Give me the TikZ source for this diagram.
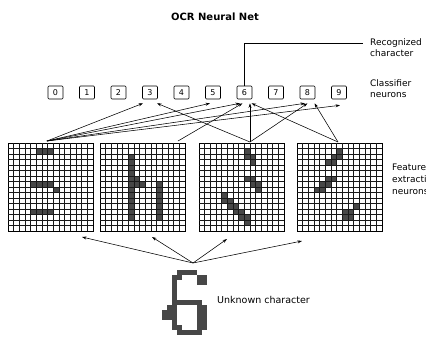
\documentclass[tikz,border=0pt]{standalone}
\usepackage{fontspec}
\setmainfont{DejaVu Sans}
\usetikzlibrary{calc,arrows.meta}
\begin{document}
\begin{tikzpicture}[x=1pt,y=-1pt,
  nbox/.style={draw,line width=0.6pt,rounded corners=1pt,minimum width=15pt,minimum height=13pt,inner sep=0pt,font=\fontsize{8}{8}\selectfont},
  gridbox/.style={draw,line width=0.7pt,minimum width=85pt,minimum height=88pt,inner sep=0pt,outer sep=0pt,anchor=north west},
  gline/.style={line width=0.5pt,black!90},
  conn/.style={line width=0.55pt,-{Stealth[length=4.5pt,width=3pt]}},
  lbl/.style={font=\fontsize{9}{11}\selectfont,align=left,anchor=north west,inner sep=0pt},
  feat/.style={fill=black!72},
]
\useasboundingbox (0,0) rectangle (426,341);

% title
\node[font=\fontsize{10}{12}\selectfont\bfseries] (title) at (215,17) {OCR Neural Net};

% classifier neurons
\foreach \i in {0,...,9}
  \node[nbox] (b\i) at ({55.5+31.5*\i},92.5) {\i};

% labels
\node[lbl] (rec) at (370,38.5) {Recognized\\character};
\node[lbl] (cls) at (370,79) {Classifier\\neurons};
\node[lbl,font=\fontsize{9}{12}\selectfont] (fen) at (392,164) {Feature\\extraction\\neurons};
\draw[line width=0.6pt] (b6.north) |- ($(rec.north west)+(-7,5)$);

% feature grids
\foreach \g/\x in {1/8,2/100,3/199,4/297}
  \node[gridbox] (g\g) at (\x,143) {};

% dark cells
\foreach \c/\r in {5/1,6/1,7/1, 4/7,5/7,6/7,7/7,8/8, 4/12,5/12,6/12,7/12}
  \fill[feat] ($(g1.north west)+(\c*5.667,\r*5.5)$) rectangle ++(5.667,5.5);
\foreach \c/\r in {5/2,5/3,5/4,5/5,5/6,5/7,5/8,5/9,5/10,5/11,5/12,5/13, 6/6,6/7,7/7, 10/7,10/8,10/9,10/10,10/11,10/12,10/13}
  \fill[feat] ($(g2.north west)+(\c*5.667,\r*5.5)$) rectangle ++(5.667,5.5);
\foreach \c/\r in {8/1,8/2,9/2,9/3, 8/6,9/6,9/7,10/7,10/8, 4/9,4/10,5/10,5/11,6/11,6/12,7/12,7/13,8/13,8/14}
  \fill[feat] ($(g3.north west)+(\c*5.667,\r*5.5)$) rectangle ++(5.667,5.5);
\foreach \c/\r in {7/1,7/2,6/2,6/3,5/3, 5/6,6/6,5/7,4/7,4/8,3/8, 8/12,8/13,9/13,9/12,10/11}
  \fill[feat] ($(g4.north west)+(\c*5.667,\r*5.5)$) rectangle ++(5.667,5.5);

% grid lines
\foreach \g in {1,2,3,4} {
  \foreach \c in {1,...,14}
    \draw[gline] ($(g\g.north west)+(\c*5.667,0)$) -- ++(0,88);
  \foreach \r in {1,...,15}
    \draw[gline] ($(g\g.north west)+(0,\r*5.5)$) -- ++(85,0);
}

% unknown character
\node[minimum width=45pt,minimum height=65pt,inner sep=0pt,outer sep=0pt,anchor=north west] (unk) at (162,270) {};
\foreach \c/\r in {3/0,4/0,5/0,6/0, 2/1,3/1,7/1,8/1, 2/2,7/2,8/2, 2/3,2/4,2/5,
  2/6,3/6,4/6,5/6,6/6,7/6, 1/7,2/7,7/7,8/7, 0/8,1/8,2/8,7/8,8/8, 0/9,1/9,2/9,7/9,8/9,
  2/10,7/10,8/10, 2/11,3/11,7/11,8/11, 3/12,4/12,5/12,6/12,7/12}
  \fill[feat] ($(unk.north west)+(\c*5,\r*5)$) rectangle ++(5,5);
\node[font=\fontsize{9.5}{11}\selectfont,anchor=west,inner sep=0pt] (unkl) at (217,300) {Unknown character};

% connectors from the unknown character to the grids
\coordinate (ut) at ($(unk.north west)+(31,-7)$);
\draw[conn] (ut) -- ($(g1.south west)+(74,6)$);
\draw[conn] (ut) -- ($(g2.south west)+(52,6)$);
\draw[conn] (ut) -- ($(g3.south west)+(28,8)$);
\draw[conn] (ut) -- ($(g4.south west)+(5,10)$);

% connectors from the grids to the classifier neurons
\coordinate (g1t) at ($(g1.north west)+(39,-2)$);
\coordinate (g2t) at ($(g2.north west)+(78,-2)$);
\coordinate (g3t) at ($(g3.north west)+(51,-1)$);
\coordinate (g4t) at ($(g4.north west)+(41,-1)$);
\draw[conn] (g1t) -- ($(b3.south)+(-7,4)$);
\draw[conn] (g1t) -- ($(b5.south)+(-3,4)$);
\draw[conn] (g1t) -- ($(b6.south)+(-4.5,4)$);
\draw[conn] (g1t) -- ($(b8.south)+(-2.5,4)$);
\draw[conn] (g1t) -- ($(b9.south)+(1,6)$);
\draw[conn] (g2t) -- ($(b6.south)+(-2,4)$);
\draw[conn] (g3t) -- ($(b3.south)+(7,4)$);
\draw[conn] (g3t) -- ($(b6.south)+(5.5,4)$);
\draw[conn] (g3t) -- ($(b8.south)+(0,4)$);
\draw[conn] (g4t) -- ($(b6.south)+(7,4)$);
\draw[conn] (g4t) -- ($(b8.south)+(7,4)$);
\end{tikzpicture}
\end{document}
